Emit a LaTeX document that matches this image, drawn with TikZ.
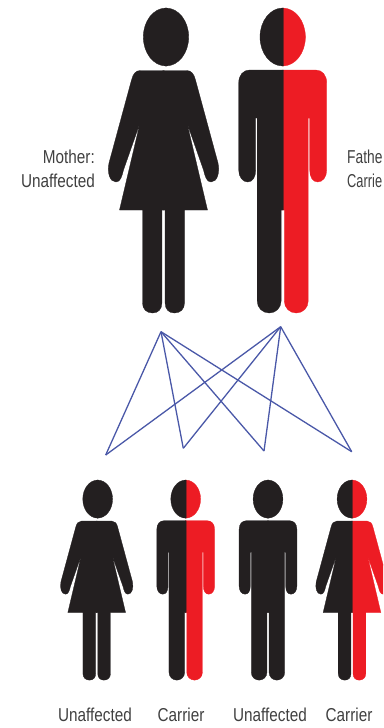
\documentclass[tikz,border=0pt]{standalone}
\usepackage{fontspec}
\setmainfont{Liberation Sans}
\definecolor{figblack}{HTML}{231F20}
\definecolor{figred}{HTML}{ED1C24}
\definecolor{figblue}{HTML}{4A58A8}
\tikzset{
  linkline/.style={draw=figblue,line width=1.3pt},
  caption/.style={inner sep=0pt,font=\fontsize{15.3}{15.3}\selectfont,text=black!75},
  bodypart/.style={fill=#1,draw=#1,line width=.3pt},
}
\newcommand{\stretchtxt}[1]{\scalebox{1}[1.22]{#1}}
% right half of a head (overlaps the centre line a little, so that no seam shows)
\newcommand{\headhalf}[1]{\path[bodypart=#1] (-0.7,8) -- (0,8) .. controls (12.5,8) and (22.7,21) .. (22.7,37) .. controls (22.7,53) and (12.5,66) .. (0,66) -- (-0.7,66) -- cycle;}
% right half of a woman (centre line x=0)
\newcommand{\womanhalf}[1]{\path[bodypart=#1] (-0.7,70.5) -- (23,70.5) .. controls (28,70.5) and (30.5,74) .. (32,80)
  -- (54.5,163) .. controls (56.5,172) and (54,182) .. (47.5,182) .. controls (43,182) and (41.5,176) .. (40,170)
  -- (23.5,123) -- (44,210) -- (21,210) -- (21,303) .. controls (21,309) and (17,313) .. (11,313)
  .. controls (5,313) and (1.6,309) .. (1.6,303) -- (1.6,210) -- (-0.7,210) -- cycle;}
% right half of a man
\newcommand{\manhalf}[1]{\path[bodypart=#1] (-0.7,70) -- (33,70) .. controls (39.5,70) and (44,75) .. (44,83)
  -- (44,170) .. controls (44,177) and (40,182) .. (35,182) .. controls (30,182) and (27,177) .. (27,170)
  -- (27,118) -- (25.5,118) -- (25.5,301) .. controls (25.5,308) and (20,313) .. (13.5,313)
  .. controls (7,313) and (1.6,308) .. (1.6,301) -- (1.6,210) -- (-0.7,210) -- cycle;}
% \person{x}{y offset}{scale}{shape macro}{left colour}{right colour}{head shift}
\newcommand{\person}[7]{%
  \begin{scope}[shift={(#1,#2)},scale=#3]
    \begin{scope}[shift={(#7,0)}]
      \headhalf{#6}
      \begin{scope}[xscale=-1]\headhalf{#5}\end{scope}
    \end{scope}
    #4{#6}
    \begin{scope}[xscale=-1]#4{#5}\end{scope}
  \end{scope}}
\begin{document}
\begin{tikzpicture}[x=1pt,y=-1pt]
\useasboundingbox (0,0) rectangle (383,728);
% parents
\person{163.5}{0}{1}{\womanhalf}{figblack}{figblack}{2.5}
\person{282.7}{0}{1}{\manhalf}{figblack}{figred}{0}
% children
\def\kidy{474.8}
\person{96.7}{\kidy}{0.656}{\womanhalf}{figblack}{figblack}{1.5}
\person{185.7}{\kidy}{0.656}{\manhalf}{figblack}{figred}{0}
\person{268}{\kidy}{0.656}{\manhalf}{figblack}{figblack}{0}
\begin{scope}
\clip (0,0) rectangle (383,728);
\person{352}{\kidy}{0.656}{\womanhalf}{figblack}{figred}{0}
\end{scope}
% links
\coordinate (mum) at (161,331.7);
\coordinate (dad) at (280.7,326.7);
\coordinate (k1) at (105.7,455);
\coordinate (k2) at (183.3,448.3);
\coordinate (k3) at (264,451);
\coordinate (k4) at (351.7,451.7);
\foreach \p in {mum,dad}
  \foreach \k in {k1,k2,k3,k4}
    \draw[linkline] (\p) -- (\k);
% labels
\node[caption,anchor=east] (lm1) at (95,157) {\stretchtxt{Mother:}};
\node[caption,anchor=east] (lm2) at (95,181) {\stretchtxt{Unaffected}};
\node[caption,anchor=west] (lf1) at (347,157) {\scalebox{.9}[1.22]{Fathe}};
\node[caption,anchor=west] (lf2) at (347,181) {\scalebox{.84}[1.22]{Carrie}};
\node[caption] (c1) at (95,715) {\stretchtxt{Unaffected}};
\node[caption] (c2) at (181,715) {\stretchtxt{Carrier}};
\node[caption] (c3) at (270,715) {\stretchtxt{Unaffected}};
\node[caption] (c4) at (349,715) {\stretchtxt{Carrier}};
\end{tikzpicture}
\end{document}
